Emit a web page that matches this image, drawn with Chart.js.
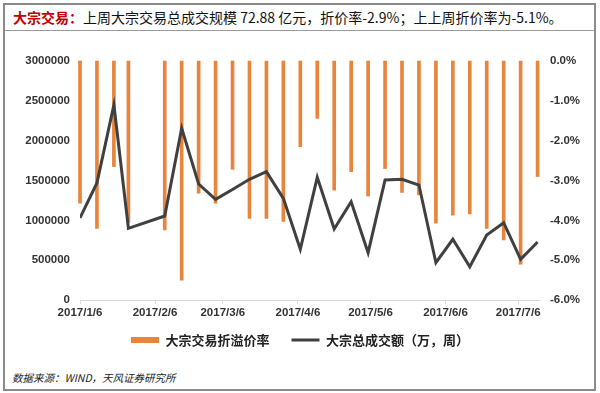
<!DOCTYPE html>
<html>
<head>
<meta charset="utf-8">
<script src="https://cdn.jsdelivr.net/npm/chart.js@4.4.1/dist/chart.umd.min.js"></script>
<style>
  body { margin: 0; width: 600px; height: 393px; background: #fff; overflow: hidden; }
  #frame { position: absolute; left: 3px; top: 3px; width: 589px; height: 384px; border: 2px solid #8a8a8a; }
  #title { position: absolute; left: 0; top: 0; width: 589px; height: 25px; border-bottom: 1px solid #9a9a9a;
           font-family: "Noto Sans CJK SC", sans-serif; font-size: 14px; line-height: 25px; color: #111; white-space: nowrap; }
  #title span.tag { color: #c00000; font-weight: bold; margin-left: 8px; }
  #box { position: absolute; left: 0; top: 30px; width: 600px; height: 335px; }
  #source { position: absolute; left: 12px; top: 370px; font-family: "Noto Sans CJK SC", sans-serif;
            font-style: italic; font-size: 10.5px; color: #222; }
</style>
</head>
<body>
<div id="frame">
  <div id="title"><span class="tag">大宗交易：</span>上周大宗交易总成交规模 72.88 亿元，折价率-2.9%；上上周折价率为-5.1%。</div>
</div>
<div id="box"><canvas id="graph" width="600" height="335"></canvas></div>
<div id="source">数据来源：WIND，天风证券研究所</div>

<script>
// weekly data //
const weeks = ['2017-01-06','2017-01-13','2017-01-20','2017-01-26','2017-02-10','2017-02-17','2017-02-24',
    '2017-03-03','2017-03-10','2017-03-17','2017-03-24','2017-03-31','2017-04-07','2017-04-14','2017-04-21',
    '2017-04-28','2017-05-05','2017-05-12','2017-05-19','2017-05-26','2017-06-02','2017-06-09','2017-06-16',
    '2017-06-23','2017-06-30','2017-07-07','2017-07-14']

// 大宗交易折溢价率 (%)
const discountRate = [-3.57, -4.2, -2.65, -4.05, -4.24, -5.5, -3.32, -3.57, -2.72, -3.95, -3.95, -4.03, -2.15, -1.44,
    -3.24, -2.78, -3.39, -2.7, -3.3, -3.36, -4.07, -3.87, -3.84, -4.2, -4.49, -5.1, -2.9]

// 大宗总成交额 (万, 周)
const totalVolume = [1030000, 1470000, 2450000, 900000, 1054000, 2155000, 1456000, 1264000, 1387000, 1515000,
    1610000, 1276000, 636000, 1540000, 891000, 1234000, 594000, 1506000, 1515000, 1443000, 468000, 762000,
    418000, 816000, 970000, 511000, 728800]

// x axis tick labels //
const xTickLabels = ['2017/1/6', '2017/2/6', '2017/3/6', '2017/4/6', '2017/5/6', '2017/6/6', '2017/7/6']

const startDay = Date.parse('2017-01-06')
function dayOf(s) {
    return Math.round((Date.parse(s.replace(/\//g, '-').replace(/-(\d)(?=-|$)/g, '-0$1')) - startDay) / 86400000)
}
const xTickDays = xTickLabels.map(dayOf)

const tickFont = { family: 'Liberation Sans, Arial, sans-serif', size: 11.5, weight: 'bold' }

// let the date labels draw below the (squeezed) x axis box
const roomForLabels = {
    id: 'roomForLabels',
    afterLayout(chart) {
        chart.scales.x.bottom = chart.scales.x.top + 24
    }
}

new Chart(document.getElementById('graph'), {
    type: 'bar',
    data: {
        datasets: [{
            type: 'bar',
            label: '大宗交易折溢价率',
            data: weeks.map((w, i) => ({ x: dayOf(w), y: discountRate[i] })),
            yAxisID: 'y1',
            backgroundColor: '#e8853d',
            borderWidth: 0,
            barThickness: 3,
            pointStyle: 'rect',
            clip: false,
            order: 1
        }, {
            type: 'line',
            label: '大宗总成交额（万，周）',
            data: weeks.map((w, i) => ({ x: dayOf(w), y: totalVolume[i] })),
            yAxisID: 'y',
            borderColor: '#404040',
            backgroundColor: '#404040',
            borderWidth: 3,
            pointRadius: 0,
            pointStyle: 'line',
            tension: 0,
            order: 0
        }]
    },
    plugins: [roomForLabels],
    options: {
        responsive: false,
        animation: false,
        layout: { padding: { top: 31, bottom: 8.5, left: 0, right: 0 } },
        plugins: {
            tooltip: { enabled: false },
            legend: {
                position: 'bottom',
                labels: {
                    usePointStyle: true,
                    pointStyleWidth: 28,
                    boxHeight: 6,
                    padding: 22,
                    color: '#222',
                    font: { family: 'Noto Sans CJK SC, sans-serif', size: 13, weight: 'bold' },
                    sort: (a, b) => a.datasetIndex - b.datasetIndex
                }
            }
        },
        scales: {
            x: {
                type: 'linear',
                offset: false,
                min: 0,
                max: 190,
                afterBuildTicks: s => { s.ticks = xTickDays.map(v => ({ value: v })) },
                afterFit: s => { s.height = 11.5 },
                grid: { display: true, offset: false, drawOnChartArea: false, drawTicks: true, tickLength: 4, color: '#d9d9d9' },
                border: { display: true, color: '#d9d9d9' },
                ticks: {
                    padding: 2,
                    maxRotation: 0,
                    autoSkip: false,
                    color: '#333',
                    font: tickFont,
                    callback: v => xTickLabels[xTickDays.indexOf(v)]
                }
            },
            y: {
                position: 'left',
                min: 0,
                max: 3000000,
                afterFit: s => { s.width = 80 },
                grid: { display: false, drawTicks: false },
                border: { display: false },
                ticks: { stepSize: 500000, padding: 10, color: '#333', font: tickFont, callback: v => String(v) }
            },
            y1: {
                position: 'right',
                min: -6,
                max: 0,
                afterFit: s => { s.width = 60 },
                grid: { display: false, drawTicks: false },
                border: { display: false },
                ticks: { stepSize: 1, padding: 10, color: '#333', font: tickFont, callback: v => v.toFixed(1) + '%' }
            }
        }
    }
})
</script>
</body>
</html>
